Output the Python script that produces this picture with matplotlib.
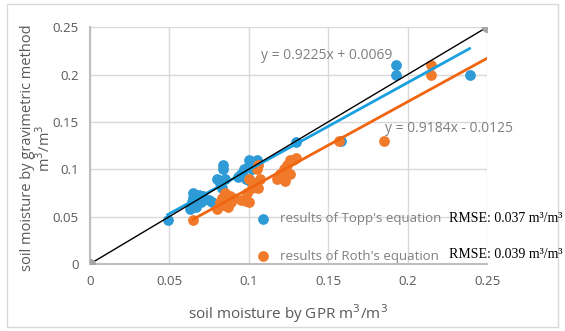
import matplotlib.pyplot as plt
import numpy as np

# GPR-estimated vs. gravimetric soil moisture (m3/m3)
topp_x = [0.049, 0.063, 0.064, 0.065, 0.065, 0.066, 0.067, 0.068, 0.069, 0.070, 0.071,
          0.075, 0.077, 0.080, 0.082, 0.083, 0.084, 0.084, 0.085,
          0.093, 0.095, 0.097, 0.098, 0.100, 0.100, 0.100, 0.101, 0.102, 0.105,
          0.130, 0.158, 0.193, 0.193, 0.239]
topp_y = [0.046, 0.058, 0.065, 0.070, 0.075, 0.063, 0.060, 0.068, 0.073, 0.065, 0.072,
          0.068, 0.065, 0.090, 0.085, 0.080, 0.100, 0.105, 0.090,
          0.092, 0.095, 0.100, 0.090, 0.110, 0.105, 0.090, 0.088, 0.100, 0.110,
          0.129, 0.130, 0.210, 0.200, 0.200]

roth_x = [0.065, 0.080, 0.082, 0.083, 0.084, 0.085, 0.086, 0.087, 0.088, 0.089, 0.090,
          0.095, 0.098, 0.099, 0.100, 0.100, 0.102, 0.104, 0.105, 0.106, 0.106, 0.107,
          0.118, 0.120, 0.122, 0.123, 0.124, 0.126, 0.126, 0.128, 0.130,
          0.157, 0.185, 0.215, 0.215]
roth_y = [0.046, 0.058, 0.065, 0.070, 0.062, 0.075, 0.068, 0.060, 0.072, 0.065, 0.070,
          0.068, 0.067, 0.075, 0.065, 0.090, 0.080, 0.085, 0.100, 0.105, 0.080, 0.090,
          0.090, 0.095, 0.100, 0.088, 0.105, 0.110, 0.095, 0.110, 0.112,
          0.130, 0.130, 0.210, 0.200]

topp_fit = (0.9225, 0.0069)
roth_fit = (0.9184, -0.0125)
topp_rmse = "RMSE: 0.037 m³/m³"
roth_rmse = "RMSE: 0.039 m³/m³"
ticks = [0, 0.05, 0.1, 0.15, 0.2, 0.25]
tick_labels = ['0', '0.05', '0.1', '0.15', '0.2', '0.25']

blue = '#2E9AD6'
orange = '#F07A2A'
grey_text = '#7F7F7F'

plt.rcParams['font.family'] = ['Open Sans', 'DejaVu Sans']

fig = plt.figure(figsize=(5.65, 3.31), dpi=100)
ax = fig.add_axes([0.159, 0.2024, 0.703, 0.7156])

# outer chart border
fig.patches.append(plt.Rectangle((0.012, 0.012), 0.976, 0.976, transform=fig.transFigure,
                                 fill=False, edgecolor='#D9D9D9', linewidth=1))

ax.scatter(topp_x, topp_y, s=45, color=blue, zorder=3, label="results of Topp's equation")
ax.scatter(roth_x, roth_y, s=45, color=orange, zorder=3, label="results of Roth's equation")

# linear trendlines
xt = np.array([min(topp_x), max(topp_x)])
ax.plot(xt, topp_fit[0] * xt + topp_fit[1], color='#1AA0E0', lw=2, zorder=4)
xr = np.array([min(roth_x), 0.25])
ax.plot(xr, roth_fit[0] * xr + roth_fit[1], color='#F0650F', lw=2, zorder=4)

# 1:1 line
ax.plot([0, 0.25], [0, 0.25], color='black', lw=1, zorder=5,
        marker='o', markersize=7, markerfacecolor='#A6A6A6', markeredgecolor='#A6A6A6')

ax.text(0.108, 0.22, "y = 0.9225x + 0.0069", color=grey_text, fontsize=10, va='center')
ax.text(0.186, 0.143, "y = 0.9184x - 0.0125", color=grey_text, fontsize=10, va='center')

ax.set_xlim(0, 0.25)
ax.set_ylim(0, 0.25)
ax.set_xticks(ticks)
ax.set_yticks(ticks)
ax.set_xticklabels(tick_labels)
ax.set_yticklabels(tick_labels)
ax.tick_params(colors='#595959', labelsize=9.5, length=0, pad=8)
ax.grid(True, color='#D9D9D9', lw=1)
ax.set_axisbelow(True)
for s in ['top', 'right']:
    ax.spines[s].set_visible(False)
for s in ['left', 'bottom']:
    ax.spines[s].set_color('#BFBFBF')
    ax.spines[s].set_linewidth(1.5)

ax.set_xlabel("soil moisture by GPR m$^3$/m$^3$", color='#595959', fontsize=11, labelpad=10)
ax.set_ylabel("soil moisture by gravimetric method\nm$^3$/m$^3$", color='#595959',
              fontsize=10.5, linespacing=1.0)
ax.yaxis.set_label_coords(-0.09, 0.49)

leg = ax.legend(loc='lower left', bbox_to_anchor=(0.37, -0.05), frameon=False,
                fontsize=9.5, labelspacing=1.85, handletextpad=0.3, markerscale=1.0,
                borderpad=0.5)
for t in leg.get_texts():
    t.set_color(grey_text)

fig.text(0.795, 1 - 218 / 331, topp_rmse, family='Liberation Serif', fontsize=10,
         color='black', va='center')
fig.text(0.795, 1 - 255 / 331, roth_rmse, family='Liberation Serif', fontsize=10,
         color='black', va='center')

fig.savefig('out.png', dpi=100)
